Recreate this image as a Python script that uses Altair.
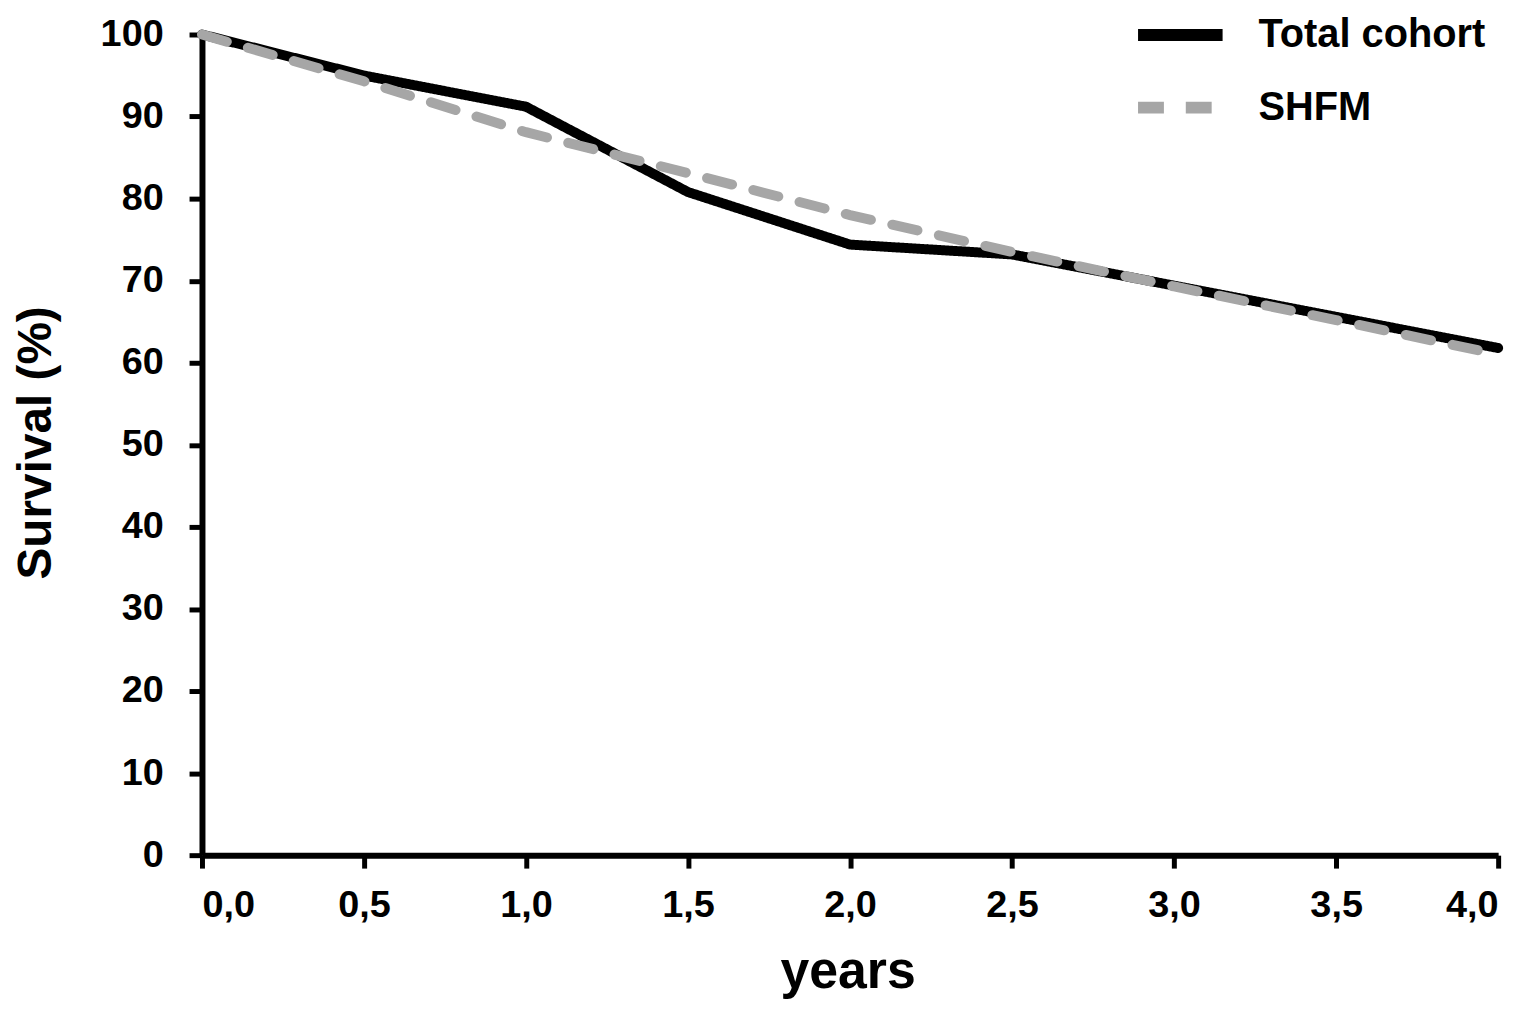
import altair as alt
import pandas as pd

years = [0.0, 0.5, 1.0, 1.5, 2.0, 2.5, 3.0, 3.5, 4.0]
total_cohort = [100, 95.0, 91.2, 80.8, 74.4, 73.2, 69.4, 65.6, 61.8]
shfm = [100, 94.3, 88.1, 83.1, 78.0, 73.5, 69.3, 65.2, 61.0]
series_names = ["Total cohort", "SHFM"]
x_ticks = [0.0, 0.5, 1.0, 1.5, 2.0, 2.5, 3.0, 3.5, 4.0]
y_ticks = [0, 10, 20, 30, 40, 50, 60, 70, 80, 90, 100]

rows = []
for yr, v in zip(years, total_cohort):
    rows.append({"years": yr, "survival": v, "series": series_names[0]})
for yr, v in zip(years, shfm):
    rows.append({"years": yr, "survival": v, "series": series_names[1]})
df = pd.DataFrame(rows)

FONT = "Liberation Sans, Arial, Helvetica, sans-serif"

legend_kw = dict(title=None, orient="none", legendX=935, legendY=-48,
                 symbolType="stroke", symbolSize=7225, symbolStrokeWidth=12,
                 labelFontSize=40, labelFont=FONT, labelFontWeight="bold",
                 labelColor="#000000", labelOffset=30, labelLimit=0,
                 rowPadding=-12)

chart = alt.Chart(df).mark_line(strokeWidth=10, strokeCap="round").encode(
    x=alt.X("years:Q",
            scale=alt.Scale(domain=[0, 4], nice=False),
            axis=alt.Axis(values=x_ticks, title="years",
                          labelExpr="replace(format(datum.value, '.1f'), '.', ',')",
                          titleX=649, titleY=133, titleBaseline="alphabetic",
                          titleAlign="center", titleFontSize=52,
                          labelPadding=19)),
    y=alt.Y("survival:Q",
            scale=alt.Scale(domain=[0, 100], nice=False),
            axis=alt.Axis(values=y_ticks, title="Survival (%)",
                          titleX=-166, titleY=410, titleAngle=270,
                          titleAlign="center", titleBaseline="middle",
                          titleFontSize=48, labelPadding=26)),
    color=alt.Color("series:N",
                    scale=alt.Scale(domain=series_names, range=["#000000", "#a6a6a6"]),
                    legend=alt.Legend(**legend_kw)),
    strokeDash=alt.StrokeDash("series:N",
                              scale=alt.Scale(domain=series_names, range=[[1, 0], [26, 22]]),
                              legend=alt.Legend(**legend_kw)),
).properties(
    width=1303, height=825,
    autosize=alt.AutoSizeParams(type="none"),
    padding={"left": 195, "top": 24, "right": 28, "bottom": 152},
).configure_view(
    stroke=None
).configure_axis(
    domainColor="#000000", domainWidth=6, tickColor="#000000", tickWidth=5,
    tickSize=13, grid=False, labelFont=FONT, labelFontSize=38,
    labelFontWeight="bold", labelColor="#000000", titleFont=FONT,
    titleFontWeight="bold", titleColor="#000000"
)

chart.save("out.html", embed_options={"renderer": "svg", "actions": False})
